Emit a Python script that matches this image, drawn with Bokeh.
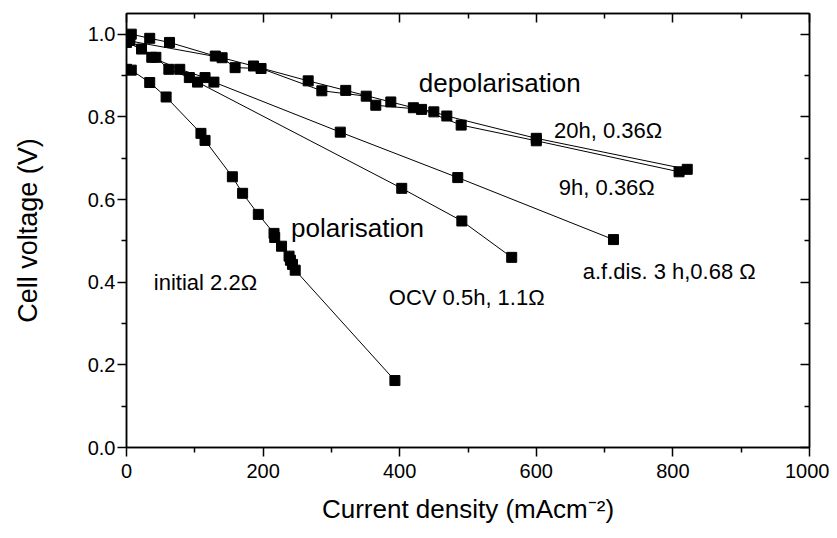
from bokeh.plotting import figure
from bokeh.models import (Range1d, FixedTicker, NumeralTickFormatter, LinearAxis, Label)
from bokeh.embed import file_html
from bokeh.resources import INLINE

# ---- data ----
initial_x = [0, 7, 34, 58, 109, 115, 155, 170, 193, 216, 217, 227, 238, 240, 243, 247, 393]
initial_y = [0.915, 0.913, 0.883, 0.848, 0.760, 0.743, 0.655, 0.615, 0.564, 0.518, 0.508,
             0.487, 0.463, 0.453, 0.443, 0.429, 0.162]

ocv_x = [0, 22, 43, 62, 92, 104, 403, 491, 564]
ocv_y = [0.980, 0.964, 0.944, 0.915, 0.895, 0.884, 0.627, 0.548, 0.460]

afdis_x = [5, 37, 78, 115, 128, 313, 485, 713]
afdis_y = [0.985, 0.944, 0.915, 0.895, 0.884, 0.763, 0.653, 0.503]

h20_x = [7, 34, 63, 130, 186, 266, 321, 387, 420, 450, 469, 600, 821]
h20_y = [1.0, 0.990, 0.980, 0.947, 0.923, 0.887, 0.864, 0.836, 0.822, 0.812, 0.802, 0.748, 0.673]

h9_x = [0, 140, 159, 197, 286, 351, 365, 432, 490, 600, 809]
h9_y = [0.985, 0.943, 0.919, 0.917, 0.863, 0.850, 0.828, 0.818, 0.780, 0.742, 0.667]

series = [(initial_x, initial_y), (ocv_x, ocv_y), (afdis_x, afdis_y),
          (h20_x, h20_y), (h9_x, h9_y)]

x_ticks = [0, 200, 400, 600, 800, 1000]
x_minor = [100, 300, 500, 700, 900]
y_ticks = [0.0, 0.2, 0.4, 0.6, 0.8, 1.0]
y_minor = [0.1, 0.3, 0.5, 0.7, 0.9]

annotations = [
    ("depolarisation", 428, 0.881, "26px"),
    ("20h, 0.36\u03a9", 626, 0.768, "22px"),
    ("9h, 0.36\u03a9", 633, 0.629, "22px"),
    ("a.f.dis. 3 h,0.68 \u03a9", 668, 0.427, "22px"),
    ("OCV 0.5h, 1.1\u03a9", 384, 0.363, "22px"),
    ("initial 2.2\u03a9", 40, 0.399, "22px"),
    ("polarisation", 241, 0.532, "26px"),
]

FONT = "Liberation Sans"

p = figure(width=829, height=530, output_backend="svg", toolbar_location=None,
           x_range=Range1d(0, 1000), y_range=Range1d(0, 1.05),
           min_border_left=126, min_border_right=20, min_border_top=13, min_border_bottom=83,
           x_axis_label="Current density (mAcm\u207b\u00b2)", y_axis_label="Cell voltage (V)")
p.grid.visible = False
p.background_fill_color = "white"
p.border_fill_color = "white"
p.outline_line_color = "black"
p.outline_line_width = 1.5

xt = FixedTicker(ticks=x_ticks, minor_ticks=x_minor)
yt = FixedTicker(ticks=y_ticks, minor_ticks=y_minor)

for ax in p.xaxis:
    ax.ticker = xt
for ax in p.yaxis:
    ax.ticker = yt
    ax.formatter = NumeralTickFormatter(format="0.0")

for ax in list(p.xaxis) + list(p.yaxis):
    ax.axis_line_width = 1.5
    ax.major_tick_line_width = 1.5
    ax.minor_tick_line_width = 1.5
    ax.major_tick_out = 9
    ax.major_tick_in = 0
    ax.minor_tick_out = 5
    ax.minor_tick_in = 0
    ax.major_label_text_font = FONT
    ax.major_label_text_font_size = "20px"
    ax.major_label_text_color = "black"
    ax.axis_label_text_font = FONT
    ax.axis_label_text_font_style = "normal"
    ax.axis_label_text_color = "black"

p.xaxis.major_label_standoff = 7
p.xaxis.axis_label_standoff = 13
p.xaxis.axis_label_text_font_size = "26px"
p.yaxis.major_label_standoff = 2
p.yaxis.axis_label_standoff = 42
p.yaxis.axis_label_text_font_size = "27px"

top = LinearAxis(ticker=FixedTicker(ticks=x_ticks, minor_ticks=x_minor),
                 major_label_overrides={t: "" for t in x_ticks})
right = LinearAxis(ticker=FixedTicker(ticks=y_ticks, minor_ticks=y_minor),
                   major_label_overrides={t: "" for t in y_ticks})
for ax in (top, right):
    ax.axis_line_width = 1.5
    ax.major_tick_line_width = 1.5
    ax.minor_tick_line_width = 1.5
    ax.major_tick_in = 9
    ax.major_tick_out = 0
    ax.minor_tick_in = 5
    ax.minor_tick_out = 0
    ax.major_label_standoff = 0
p.add_layout(top, "above")
p.add_layout(right, "right")

for xs, ys in series:
    p.line(xs, ys, line_color="black", line_width=1)
for xs, ys in series:
    p.scatter(xs, ys, marker="square", size=10, fill_color="black", line_color="black")

for txt, x, y, fs in annotations:
    p.add_layout(Label(x=x, y=y, text=txt, text_font=FONT, text_font_size=fs,
                       text_color="black", text_baseline="alphabetic", text_align="left"))

open("out.html", "w").write(file_html(p, INLINE))
